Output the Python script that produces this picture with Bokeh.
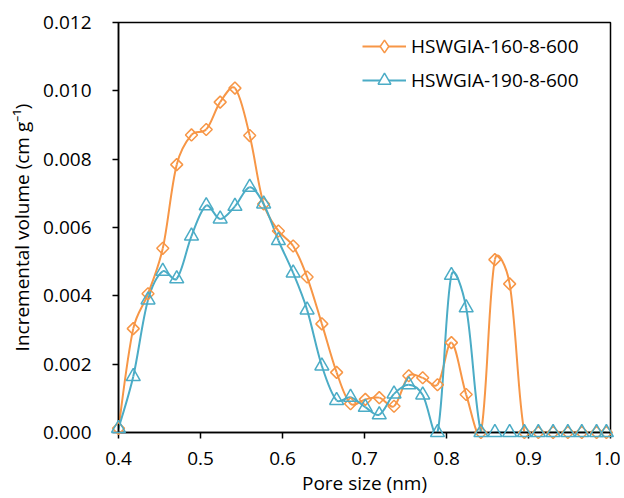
import math
from bokeh.plotting import figure
from bokeh.models import (Legend, LegendItem, NumeralTickFormatter, SingleIntervalTicker,
                          Range1d)
from bokeh.embed import file_html
from bokeh.resources import INLINE

# ---- data ----
pore_size = [0.400, 0.418, 0.436, 0.454, 0.471, 0.489, 0.507, 0.524, 0.542, 0.560,
             0.577, 0.595, 0.613, 0.630, 0.648, 0.666, 0.683, 0.701, 0.718, 0.736,
             0.754, 0.771, 0.789, 0.806, 0.824, 0.842, 0.859, 0.877, 0.895, 0.912,
             0.930, 0.948, 0.965, 0.983, 0.995]
hswgia_160 = [0.00012, 0.00304, 0.00406, 0.00539, 0.00784, 0.00871, 0.00887, 0.00967, 0.01008, 0.00869,
              0.00669, 0.00590, 0.00546, 0.00455, 0.00318, 0.00176, 0.00084, 0.00097, 0.00102, 0.00077,
              0.00166, 0.00160, 0.00140, 0.00263, 0.00111, 0.0, 0.00506, 0.00435, 0.0, 0.0,
              0.0, 0.0, 0.0, 0.0, 0.0]
hswgia_190 = [0.00012, 0.00164, 0.00388, 0.00472, 0.00450, 0.00575, 0.00664, 0.00625, 0.00662, 0.00718,
              0.00669, 0.00562, 0.00467, 0.00359, 0.00195, 0.00094, 0.00103, 0.00074, 0.00052, 0.00113,
              0.00140, 0.00110, 0.0, 0.00460, 0.00365, 0.0, 0.0, 0.0, 0.0, 0.0,
              0.0, 0.0, 0.0, 0.0, 0.0]
series_names = ["HSWGIA-160-8-600", "HSWGIA-190-8-600"]
x_label = "Pore size (nm)"
y_label = "Incremental volume (cm g\u207b\u00b9)"

ORANGE = "#F79646"
BLUE = "#4BACC6"
FONT = "Open Sans"
FS = "19px"

W, H = 620, 498
BL, BR, BT, BB = 118, 10, 22, 66
XR = (0.4, 1.0)
YR = (0.0, 0.012)
SX = (W - BL - BR) / (XR[1] - XR[0])   # px per data unit, used only for smoothing weights
SY = (H - BT - BB) / (YR[1] - YR[0])


def smooth_segments(xs, ys):
    """Cubic Bezier control points for an Excel-like smoothed line, derived from the data."""
    n = len(xs)

    def dist(i, j):
        return math.hypot((xs[j] - xs[i]) * SX, (ys[j] - ys[i]) * SY)

    out = {k: [] for k in ("x0", "y0", "x1", "y1", "cx0", "cy0", "cx1", "cy1")}
    for i in range(n - 1):
        a = i - 1 if i > 0 else i
        d = i + 2 if i + 2 < n else i + 1
        # outgoing tangent at point i
        d0, d1 = dist(a, i), dist(i, i + 1)
        f0 = (1 / 6) * math.sqrt(2 * d1 / (d0 + d1)) if (d0 + d1) > 0 and a != i else 1 / 6
        # incoming tangent at point i+1
        e1, e2 = dist(i, i + 1), dist(i + 1, d)
        f1 = (1 / 6) * math.sqrt(2 * e1 / (e1 + e2)) if (e1 + e2) > 0 and d != i + 1 else 1 / 6
        out["x0"].append(xs[i]); out["y0"].append(ys[i])
        out["x1"].append(xs[i + 1]); out["y1"].append(ys[i + 1])
        out["cx0"].append(xs[i] + (xs[i + 1] - xs[a]) * f0)
        out["cy0"].append(ys[i] + (ys[i + 1] - ys[a]) * f0)
        out["cx1"].append(xs[i + 1] - (xs[d] - xs[i]) * f1)
        out["cy1"].append(ys[i + 1] - (ys[d] - ys[i]) * f1)
    return out


p = figure(width=W, height=H, output_backend="svg", toolbar_location=None,
           x_range=Range1d(*XR), y_range=Range1d(*YR),
           min_border_left=BL, min_border_right=BR, min_border_top=BT, min_border_bottom=BB)
p.grid.visible = False
p.outline_line_color = "black"
p.outline_line_width = 1.5
p.background_fill_color = "white"
p.border_fill_color = "white"

NAN = float("nan")
items = []
for name, ys, color, marker, msize, angle, legend_marker in [
        (series_names[0], hswgia_160, ORANGE, "square", 8.5, math.pi / 4, "diamond"),
        (series_names[1], hswgia_190, BLUE, "triangle", 14, 0.0, "triangle")]:
    seg = smooth_segments(pore_size, ys)
    curve = p.bezier(line_color=color, line_width=2, **seg)
    p.scatter(pore_size, ys, marker=marker, size=msize, angle=angle,
              line_color=color, line_width=1.5, fill_alpha=0, level="overlay")
    # legend-only proxy marker (NaN position -> nothing drawn in the plot area)
    proxy = p.scatter(x=[NAN], y=[NAN], marker=legend_marker, line_color=color,
                      line_width=1.5, fill_color="white", fill_alpha=1)
    items.append(LegendItem(label=name, renderers=[curve, proxy]))

legend = Legend(items=items, location=(244, 336), padding=0, spacing=2,
                glyph_width=44, glyph_height=32, label_height=32, label_standoff=5,
                border_line_color=None, background_fill_alpha=0,
                label_text_font=FONT, label_text_font_size=FS, label_text_color="black")
p.add_layout(legend)

for ax in (p.xaxis[0], p.yaxis[0]):
    ax.axis_line_color = "black"
    ax.axis_line_width = 1.5
    ax.major_tick_line_color = "black"
    ax.major_tick_line_width = 1.5
    ax.major_tick_out = 6
    ax.major_tick_in = 0
    ax.minor_tick_line_color = None
    ax.major_label_text_font = FONT
    ax.major_label_text_font_size = FS
    ax.major_label_text_color = "black"
    ax.axis_label_text_font = FONT
    ax.axis_label_text_font_size = FS
    ax.axis_label_text_font_style = "normal"
    ax.axis_label_text_color = "black"

p.xaxis.ticker = SingleIntervalTicker(interval=0.1)
p.xaxis.formatter = NumeralTickFormatter(format="0.0")
p.xaxis.axis_label = x_label
p.xaxis.major_label_standoff = 13
p.xaxis.axis_label_standoff = 2

p.yaxis.ticker = SingleIntervalTicker(interval=0.002)
p.yaxis.formatter = NumeralTickFormatter(format="0.000")
p.yaxis.axis_label = y_label
p.yaxis.major_label_standoff = 21
p.yaxis.axis_label_standoff = 5

open("out.html", "w").write(file_html(p, INLINE))
